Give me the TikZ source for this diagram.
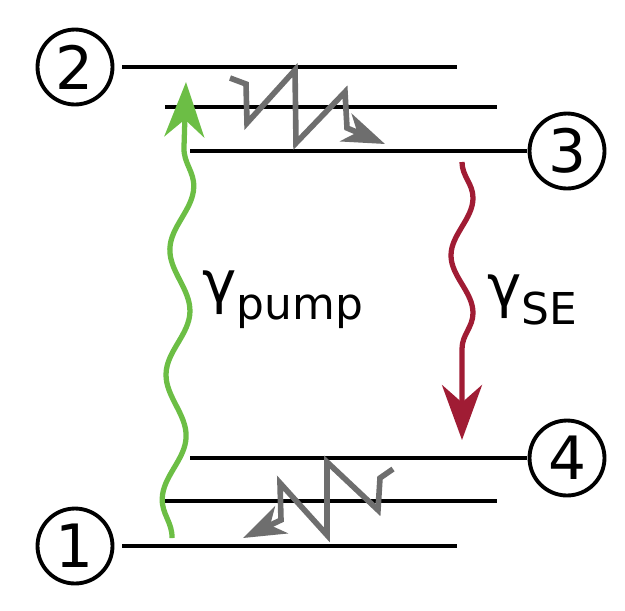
\documentclass[tikz,border=0pt]{standalone}
\usepackage{fontspec}
\setmainfont{DejaVu Sans}
\usetikzlibrary{decorations.pathmorphing, arrows.meta}
\definecolor{pumpgreen}{RGB}{108,190,69}
\definecolor{sered}{RGB}{160,28,52}
\definecolor{relaxgray}{RGB}{110,110,110}
\tikzset{
  level/.style={line width=2.7pt},
  state/.style={draw, circle, line width=2.2pt, minimum size=1.5cm, inner sep=0pt, font=\fontsize{34}{34}\selectfont},
  wave/.style={line width=3pt, decorate, decoration={snake, amplitude=0.22cm, segment length=2.5cm, post length=0.9cm}, -{Stealth[length=1.1cm, width=0.8cm, inset=0.35cm]}},
  relax/.style={relaxgray, line width=3.2pt, line join=miter, -{Stealth[length=0.85cm, width=0.6cm, inset=0.25cm]}}
}
\begin{document}
\begin{tikzpicture}[x=0.02cm, y=-0.02cm]
  \useasboundingbox (0,0) rectangle (625,610);
  % levels
  \draw[level] (122,67) -- (457,67);
  \draw[level] (165,107) -- (497,107);
  \draw[level] (190,151) -- (527,151);
  \draw[level] (190,458) -- (527,458);
  \draw[level] (165,501) -- (497,501);
  \draw[level] (122,546) -- (457,546);
  % states
  \node[state] (s2) at (75,67) {2};
  \node[state] (s3) at (567,151) {3};
  \node[state] (s4) at (567,458) {4};
  \node[state] (s1) at (75,546) {1};
  % radiative transitions
  \coordinate (pumpA) at (172,538);
  \coordinate (pumpB) at (186,82);
  \coordinate (seA) at (462,162);
  \coordinate (seB) at (462,440);
  \draw[wave, pumpgreen] (pumpA) -- (pumpB);
  \draw[wave, sered, decoration={segment length=2.3cm, post length=0.8cm}] (seA) -- (seB);
  \node (gpump) at (283,300) {\fontsize{33}{33}\selectfont γ\raisebox{-0.3em}{\fontsize{25}{25}\selectfont pump}};
  \node (gse) at (532,300) {\fontsize{33}{33}\selectfont γ\raisebox{-0.3em}{\fontsize{25}{25}\selectfont SE}};
  % non-radiative relaxation
  \coordinate (ztA) at (230,78);
  \coordinate (ztB) at (385,144);
  \draw[relax] (ztA) -- (246,84) -- (247,123) -- (295,70) -- (296,143) -- (345,92) -- (347,128) -- (ztB);
  \coordinate (zbA) at (393,469);
  \coordinate (zbB) at (243,538);
  \draw[relax] (zbA) -- (380,478) -- (378,510) -- (327,462) -- (327,535) -- (280,483) -- (281,520) -- (zbB);
\end{tikzpicture}
\end{document}
